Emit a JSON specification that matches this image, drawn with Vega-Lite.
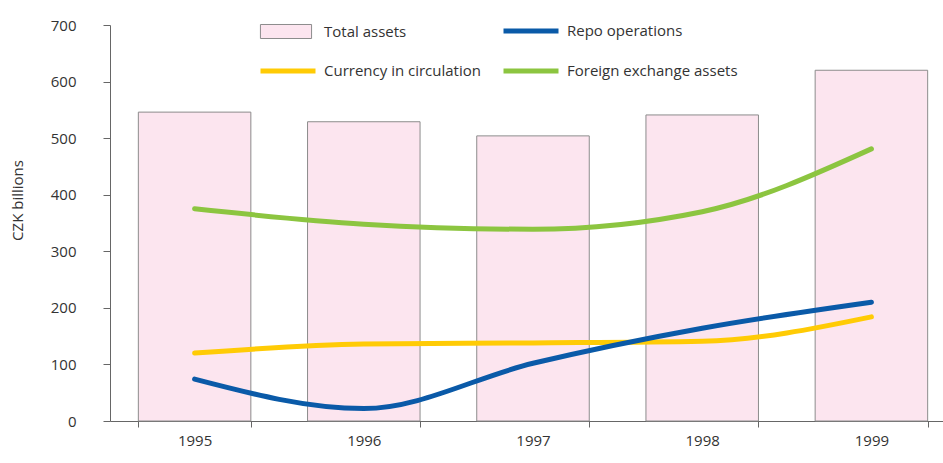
{
  "$schema": "https://vega.github.io/schema/vega-lite/v6.json",
  "width": 833,
  "height": 396,
  "autosize": "none",
  "padding": {"left": 110, "top": 25, "right": 0, "bottom": 42},
  "config": {
    "font": "Open Sans",
    "view": {"stroke": null},
    "axis": {
      "domainColor": "#666666",
      "tickColor": "#666666",
      "labelColor": "#333333",
      "labelFontSize": 15,
      "titleColor": "#333333",
      "titleFontSize": 15,
      "titleFontWeight": "normal",
      "grid": false
    },
    "legend": {
      "labelFontSize": 15,
      "labelColor": "#333333",
      "labelLimit": 0
    }
  },
  "datasets": {
    "bars": [
      {"year": "1995", "series": "Total assets", "value": 546},
      {"year": "1996", "series": "Total assets", "value": 529},
      {"year": "1997", "series": "Total assets", "value": 504},
      {"year": "1998", "series": "Total assets", "value": 541},
      {"year": "1999", "series": "Total assets", "value": 620}
    ],
    "lines": [
      {"year": "1995", "series": "Currency in circulation", "value": 120},
      {"year": "1996", "series": "Currency in circulation", "value": 136},
      {"year": "1997", "series": "Currency in circulation", "value": 138},
      {"year": "1998", "series": "Currency in circulation", "value": 141},
      {"year": "1999", "series": "Currency in circulation", "value": 184},
      {"year": "1995", "series": "Foreign exchange assets", "value": 375},
      {"year": "1996", "series": "Foreign exchange assets", "value": 348},
      {"year": "1997", "series": "Foreign exchange assets", "value": 339},
      {"year": "1998", "series": "Foreign exchange assets", "value": 370},
      {"year": "1999", "series": "Foreign exchange assets", "value": 481},
      {"year": "1995", "series": "Repo operations", "value": 74},
      {"year": "1996", "series": "Repo operations", "value": 22},
      {"year": "1997", "series": "Repo operations", "value": 102},
      {"year": "1998", "series": "Repo operations", "value": 164},
      {"year": "1999", "series": "Repo operations", "value": 210}
    ]
  },
  "layer": [
    {
      "data": {"name": "bars"},
      "mark": {"type": "bar", "stroke": "#8c8c8c", "strokeWidth": 1},
      "encoding": {
        "x": {
          "field": "year",
          "type": "ordinal",
          "scale": {"type": "band", "range": [0, 846], "paddingInner": 0.335, "paddingOuter": 0.1675},
          "axis": {"title": null, "labelAngle": 0, "tickBand": "extent", "tickSize": 6, "labelPadding": 6, "labelFontSize": 15}
        },
        "y": {
          "field": "value",
          "type": "quantitative",
          "scale": {"domain": [0, 700], "nice": false},
          "axis": {"title": "CZK billions", "values": [0, 100, 200, 300, 400, 500, 600, 700], "tickSize": 7, "labelPadding": 27, "titlePadding": 25, "titleY": 175, "labelFontSize": 15, "titleFontSize": 15}
        },
        "fill": {
          "field": "series",
          "type": "nominal",
          "scale": {"domain": ["Total assets"], "range": ["#fce5ef"]},
          "legend": {
            "title": null,
            "orient": "none",
            "legendX": 148,
            "legendY": -21.5,
            "labelOffset": 10,
            "symbolSize": 3025,
            "symbolType": "M-0.93,-0.255H0.93V0.255H-0.93Z",
            "symbolStrokeColor": "#8c8c8c",
            "symbolStrokeWidth": 1
          }
        }
      }
    },
    {
      "data": {"name": "lines"},
      "mark": {"type": "line", "interpolate": "monotone", "strokeWidth": 5, "strokeCap": "round"},
      "encoding": {
        "x": {"field": "year", "type": "ordinal"},
        "y": {"field": "value", "type": "quantitative"},
        "stroke": {
          "field": "series",
          "type": "nominal",
          "scale": {
            "domain": ["Total assets", "Repo operations", "Currency in circulation", "Foreign exchange assets"],
            "range": ["transparent", "#0a5aa8", "#ffcb05", "#8cc540"]
          },
          "legend": {
            "title": null,
            "orient": "none",
            "direction": "horizontal",
            "columns": 2,
            "legendX": 148,
            "legendY": -24,
            "columnPadding": 12,
            "rowPadding": -18,
            "labelOffset": 6,
            "symbolSize": 3025,
            "symbolType": "stroke",
            "symbolStrokeWidth": 5,
            "labelExpr": "datum.value === 'Total assets' ? '' : datum.label"
          }
        }
      }
    }
  ]
}
